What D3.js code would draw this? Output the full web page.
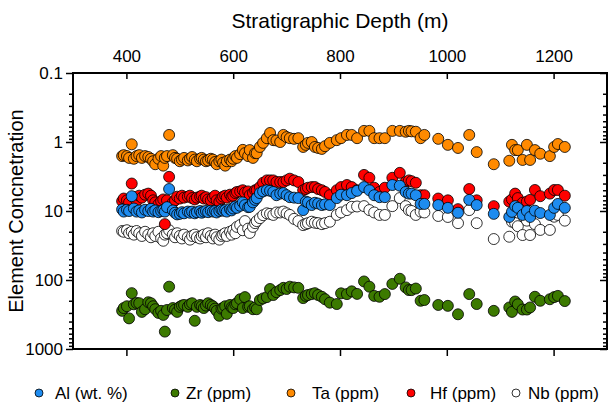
<!DOCTYPE html>
<html>
<head>
<meta charset="utf-8">
<script src="https://cdn.jsdelivr.net/npm/d3@7"></script>
<style>
  body { margin: 0; background: #fff; }
  text { font-family: "Liberation Sans", Arial, Helvetica, sans-serif; fill: #000; }
</style>
</head>
<body>
<svg id="chart" width="610" height="406"></svg>
<script>

// sample depths (m), shared by all elements
var depth = [
  392, 395, 401, 405, 410, 414, 419, 424, 429, 435, 441, 446, 450, 454, 460, 465, 469, 472,
  476, 480, 487, 491, 495, 500, 504, 508, 515, 519, 523, 528, 532, 538, 541, 545, 549, 553,
  558, 562, 566, 569, 574, 578, 581, 585, 588, 594, 597, 600, 604, 607, 613, 618, 622, 628,
  631, 637, 641, 644, 650, 656, 663, 669, 675, 681, 688, 694, 700, 706, 714, 722, 731, 736,
  740, 747, 753, 759, 766, 772, 781, 794, 802, 813, 822, 832, 845, 855, 864, 874, 884, 898,
  912, 923, 929, 934, 942, 951, 958,
  984, 1002, 1021, 1042, 1056, 1088, 1117, 1122, 1128, 1133, 1142, 1150, 1156, 1165, 1175,
  1193, 1201, 1208, 1221
];

var al = [
  9.5, 10.2, 9.6, 10.0, 6.1, 9.2, 10.2, 9.8, 10.5, 9.6, 10.0, 9.3, 10.2, 9.8, 10.4, 10.0, 9.7, 10.2,
  8.8, 4.8, 9.8, 10.6, 11.2, 11.0, 10.4, 10.8, 10.2, 10.6, 10.2, 10.8, 10.4, 10.0, 10.6, 10.2, 10.0, 10.4,
  9.9, 10.2, 10.0, 10.5, 10.0, 9.6, 9.9, 9.7, 10.2, 9.4, 9.8, 9.2, 8.6, 9.0, 8.4, 7.5, 8.2, 8.8,
  8.7, 7.5, 6.9, 6.5, 5.5, 5.2, 5.0, 5.1, 5.3, 5.9, 5.6, 5.5, 5.9, 6.3, 6.4, 6.5, 9.7, 7.3,
  7.5, 8.2, 7.6, 7.8, 8.2, 8.0, 8.2, 6.5, 5.8, 5.9, 5.5, 5.1, 4.5, 5.0, 5.9, 6.3, 6.3, 4.2,
  4.3, 5.3, 5.6, 5.6, 5.9, 7.9, 7.9,
  8.2, 9.0, 10.6, 6.9, 8.2, 11.0, 12.2, 10.3, 8.5, 9.0, 11.4, 10.0, 12.2, 9.9, 10.7,
  11.4, 9.0, 7.9, 9.0
];

var zr = [
  280, 255, 240, 360, 155, 225, 215, 217, 290, 265, 210, 217, 240, 265, 300, 280, 321, 560,
  272, 125, 255, 270, 290, 245, 235, 230, 245, 225, 217, 390, 245, 230, 240, 255, 235, 217,
  230, 240, 260, 280, 330, 260, 255, 240, 310, 230, 250, 255, 225, 217, 190, 255, 177, 245,
  240, 265, 250, 265, 195, 185, 177, 135, 165, 150, 140, 130, 135, 125, 128, 130, 183, 170,
  165, 160, 155, 165, 175, 190, 213, 223, 156, 160, 146, 159, 105, 125, 170, 175, 160, 114,
  96, 128, 140, 140, 133, 200, 195,
  230, 237, 314, 160, 223, 280, 250, 290, 205, 225, 268, 268, 250, 175, 200,
  190, 177, 170, 202
];

var ta = [
  1.6, 1.55, 1.6, 1.7, 1.08, 1.75, 1.6, 1.55, 1.7, 1.6, 1.65, 1.75, 1.9, 2.1, 1.75, 1.6, 2.2, 1.7,
  1.6, 0.79, 1.55, 1.7, 1.75, 1.9, 1.8, 1.7, 1.85, 1.75, 1.65, 1.8, 1.9, 1.75, 1.7, 1.8, 1.9, 1.85,
  1.75, 1.8, 1.95, 2.1, 1.9, 1.8, 2.0, 2.2, 1.9, 1.8, 1.9, 1.75, 1.6, 1.7, 1.5, 1.3, 1.45, 1.6,
  1.31, 1.7, 1.45, 1.45, 1.18, 1.03, 0.88, 0.74, 0.94, 0.95, 1.0, 0.79, 0.85, 0.88, 0.9, 0.88, 1.18, 1.1,
  1.03, 1.0, 1.18, 1.22, 1.26, 1.15, 1.03, 0.94, 0.88, 0.79, 0.79, 0.88, 0.69, 0.69, 0.88, 0.88, 0.88, 0.69,
  0.69, 0.71, 0.69, 0.70, 0.71, 0.88, 0.79,
  0.9, 1.10, 1.22, 0.79, 1.4, 2.1, 1.87, 1.10, 1.31, 1.31, 1.82, 1.10, 1.82, 1.31, 1.48,
  1.6, 1.18, 1.07, 1.18
];

var hf = [
  7.2, 6.6, 7.0, 7.5, 4.0, 6.3, 7.2, 6.0, 6.4, 5.8, 5.6, 6.0, 7.0, 7.5, 8.0, 7.2, 6.8, 15.5,
  7.0, 3.2, 7.5, 7.0, 6.2, 6.6, 6.0, 6.4, 6.2, 6.0, 6.5, 6.8, 6.4, 6.2, 6.0, 6.6, 6.3, 6.8,
  7.0, 6.4, 6.0, 7.0, 7.4, 6.6, 6.2, 6.0, 6.4, 5.8, 6.2, 6.0, 5.5, 5.3, 5.2, 5.0, 5.4, 5.2,
  5.9, 5.5, 5.0, 5.0, 4.5, 3.9, 3.6, 3.6, 3.6, 3.8, 3.8, 3.8, 3.6, 3.4, 3.6, 3.8, 5.0, 4.8,
  4.6, 4.5, 4.5, 4.8, 5.0, 5.3, 5.9, 5.0, 4.5, 4.2, 4.5, 5.0, 3.0, 3.3, 4.6, 5.3, 4.6, 3.3,
  2.8, 3.8, 3.6, 3.7, 3.9, 5.9, 5.9,
  6.6, 7.0, 9.4, 4.8, 7.0, 8.5, 7.3, 6.8, 5.6, 6.5, 7.6, 7.3, 6.9, 4.96, 6.1,
  5.6, 4.96, 4.96, 6.0
];

var nb = [
  19.5, 20, 19, 21, 20, 22, 19.5, 21, 23, 20, 22, 24, 21, 23, 20, 25, 27, 22,
  21, 19, 22, 24, 21, 23, 25, 22, 24, 26, 23, 22, 24, 25, 23, 22, 24, 21,
  23, 25, 22, 24, 26, 23, 22, 21, 23, 20, 22, 19, 21, 17, 16, 19, 14, 18,
  20.8, 17, 15, 14, 12.7, 11.5, 10.8, 11, 11.4, 10.5, 10.5, 10.2, 10.8, 11.4, 13, 14, 16, 15.5,
  15, 14.3, 14.8, 15, 15.5, 15, 14.3, 11.4, 10.5, 9.7, 8.7, 8.6, 8.5, 9.7, 10.5, 11.4, 11.4, 8.5,
  6.5, 8.5, 9.7, 10, 11.4, 10.2, 10.5,
  11.8, 12.2, 15, 9.7, 15, 25.5, 23.6, 14.3, 15, 16.6, 22.3, 13.8, 22.3, 15.5, 18.8,
  18.8, 12.1, 11.4, 13.8
];

var xTicks = [400, 600, 800, 1000, 1200];
var yTicks = [0.1, 1, 10, 100, 1000];

var series = [
  { name: "Al (wt. %)", values: al, color: "#1e8cf0" },
  { name: "Zr (ppm)", values: zr, color: "#3c7a00" },
  { name: "Ta (ppm)", values: ta, color: "#ff8a00" },
  { name: "Hf (ppm)", values: hf, color: "#ff0000" },
  { name: "Nb (ppm)", values: nb, color: "#ffffff" }
];

var svg = d3.select("#chart");
var plotLeft = 73, plotRight = 607, plotTop = 73, plotBottom = 349;

var x = d3.scaleLinear().domain([300, 1300]).range([plotLeft, plotRight]);
var y = d3.scaleLog().domain([0.1, 1000]).range([plotTop, plotBottom]);

// minor ticks 2..9 in every decade
var minorTicks = [];
yTicks.slice(0, -1).forEach(function (d) {
  for (var k = 2; k < 10; k++) minorTicks.push(d * k);
});

var fmt = function (d) { return d < 1 ? d3.format(".1f")(d) : d3.format("d")(d); };

function styleAxis(g) {
  g.select(".domain").remove();
  g.selectAll("line").attr("stroke", "#000").attr("stroke-width", 1.5);
  g.selectAll("text").style("font-size", "17px");
}

// top axis with labels, ticks pointing in
svg.append("g")
  .attr("transform", "translate(0," + plotTop + ")")
  .call(d3.axisTop(x).tickValues(xTicks).tickSize(-6).tickPadding(11).tickFormat(d3.format("d")))
  .call(styleAxis);

// bottom axis, ticks out, no labels
svg.append("g")
  .attr("transform", "translate(0," + plotBottom + ")")
  .call(d3.axisBottom(x).tickValues(xTicks).tickSize(7).tickFormat(""))
  .call(styleAxis);

// left axis
svg.append("g")
  .attr("transform", "translate(" + plotLeft + ",0)")
  .call(d3.axisLeft(y).tickValues(yTicks).tickSize(7).tickPadding(3).tickFormat(fmt))
  .call(styleAxis);
svg.append("g")
  .attr("transform", "translate(" + plotLeft + ",0)")
  .call(d3.axisLeft(y).tickValues(minorTicks).tickSize(4).tickFormat(""))
  .call(styleAxis);

// right axis, ticks pointing in
svg.append("g")
  .attr("transform", "translate(" + plotRight + ",0)")
  .call(d3.axisLeft(y).tickValues(yTicks).tickSize(7).tickFormat(""))
  .call(styleAxis);
svg.append("g")
  .attr("transform", "translate(" + plotRight + ",0)")
  .call(d3.axisLeft(y).tickValues(minorTicks).tickSize(4).tickFormat(""))
  .call(styleAxis);

// frame
svg.append("rect")
  .attr("x", plotLeft).attr("y", plotTop)
  .attr("width", plotRight - plotLeft).attr("height", plotBottom - plotTop)
  .attr("fill", "none").attr("stroke", "#000").attr("stroke-width", 2);

// points, Nb drawn first so it sits underneath
var drawOrder = [4, 1, 2, 3, 0];
drawOrder.forEach(function (i) {
  var s = series[i];
  svg.append("g").selectAll("circle")
    .data(depth.map(function (d, j) { return [d, s.values[j]]; }))
    .enter().append("circle")
    .attr("cx", function (d) { return x(d[0]); })
    .attr("cy", function (d) { return y(d[1]); })
    .attr("r", 5.5)
    .attr("fill", s.color)
    .attr("stroke", "#000")
    .attr("stroke-width", 0.8);
});

// axis titles
svg.append("text")
  .attr("x", (plotLeft + plotRight) / 2).attr("y", 28)
  .attr("text-anchor", "middle")
  .style("font-size", "21px")
  .text("Stratigraphic Depth (m)");

svg.append("text")
  .attr("transform", "translate(23," + (plotTop + plotBottom) / 2 + ") rotate(-90)")
  .attr("text-anchor", "middle")
  .style("font-size", "20px")
  .text("Element Concnetration");

// legend
var legendX = [39, 175, 291, 411, 516];
var legendTextX = [55, 186, 312, 430, 528];
var legend = svg.append("g");
series.forEach(function (s, i) {
  legend.append("circle")
    .attr("cx", legendX[i]).attr("cy", 393)
    .attr("r", 4)
    .attr("fill", s.color)
    .attr("stroke", "#000")
    .attr("stroke-width", 0.8);
  legend.append("text")
    .attr("x", legendTextX[i]).attr("y", 399)
    .style("font-size", "17px")
    .text(s.name);
});

</script>
</body>
</html>
